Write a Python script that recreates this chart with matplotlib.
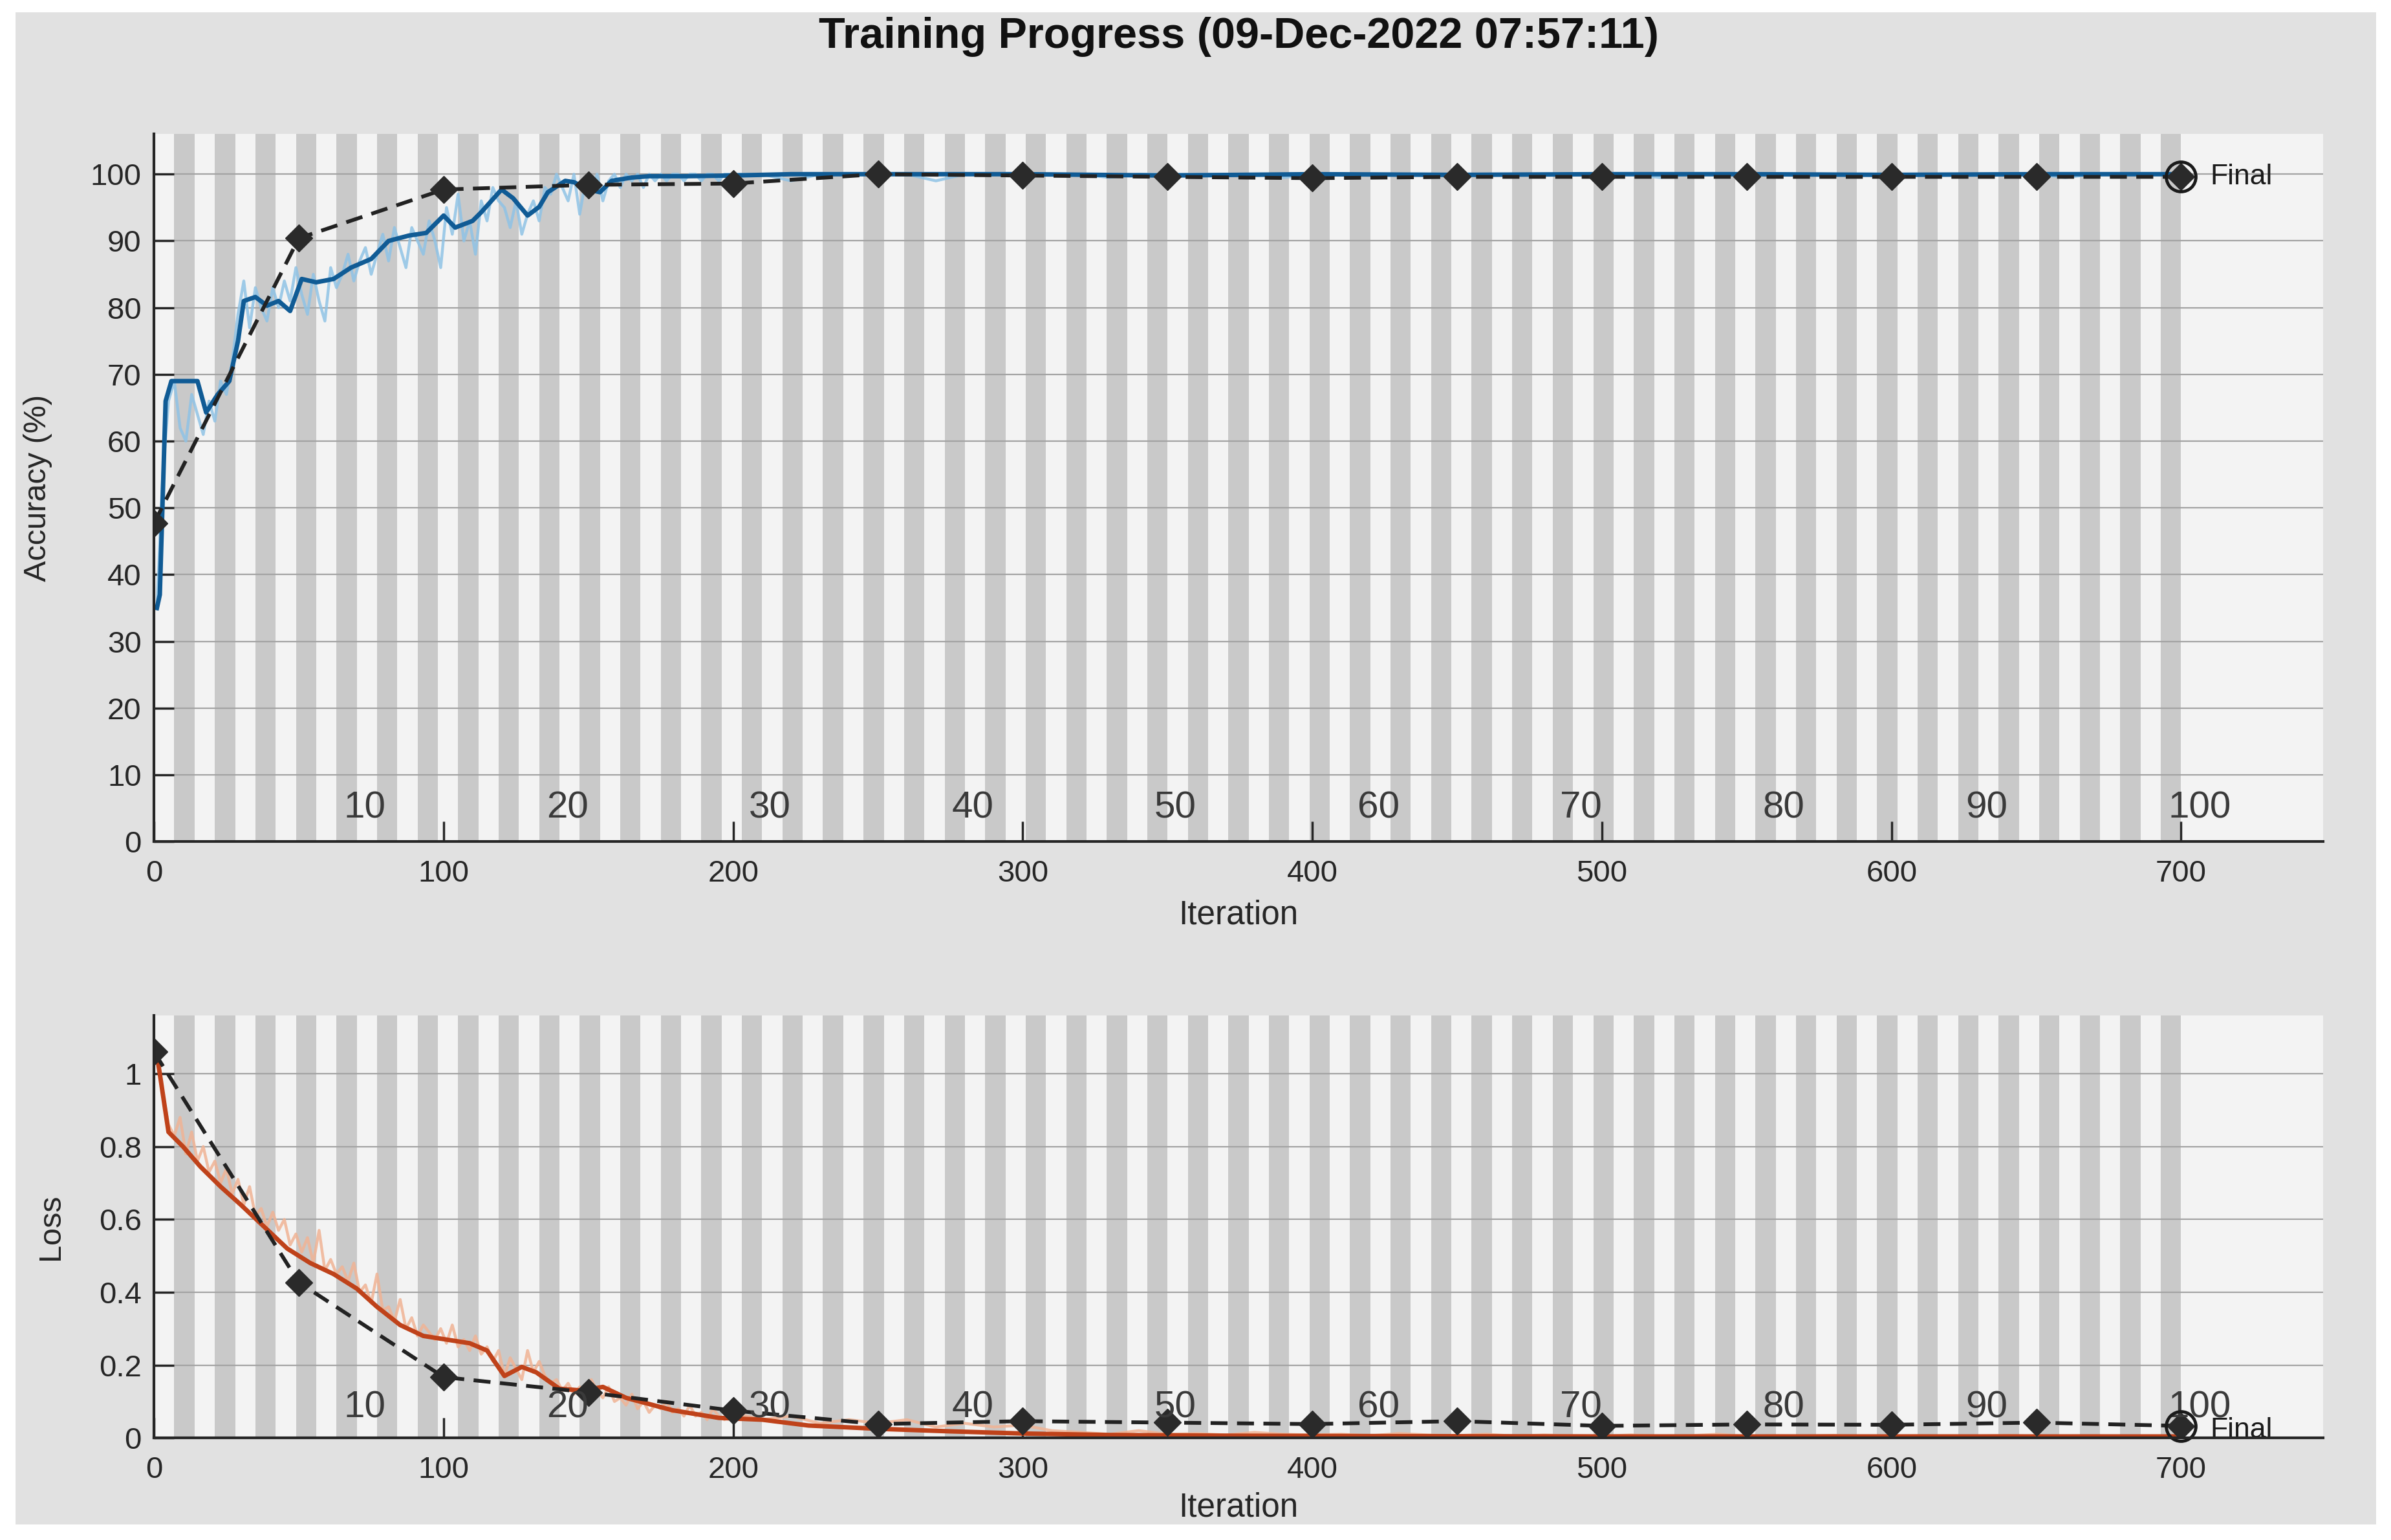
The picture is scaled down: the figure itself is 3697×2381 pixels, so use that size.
import matplotlib.pyplot as plt
from matplotlib.patches import Rectangle
from matplotlib.ticker import FuncFormatter

plt.rcParams['font.family'] = ['Liberation Sans', 'DejaVu Sans']

# epochs / iterations
n_epochs = 100
iters_per_epoch = 7
epoch_labels = [10, 20, 30, 40, 50, 60, 70, 80, 90, 100]

# training accuracy, raw (every 2nd iteration up to 199, then every 10)
acc_raw_iters = list(range(1, 200, 2)) + list(range(210, 701, 10))
acc_raw = [35, 55, 66, 69, 62, 60, 67, 64, 61, 66,
           63, 69, 67, 72, 79, 84, 77, 83, 80, 78,
           83, 80, 84, 81, 86, 82, 79, 85, 81, 78,
           86, 83, 85, 88, 84, 87, 89, 85, 88, 91,
           87, 92, 89, 86, 92, 90, 88, 93, 90, 86,
           95, 91, 97, 90, 93, 88, 96, 93, 98, 96,
           95, 92, 96, 91, 94, 96, 93, 98, 97, 100,
           98, 96, 100, 94, 99, 97, 100, 96, 99, 100,
           98, 100, 99, 100, 98, 100, 99, 100, 99, 100,
           100, 99, 100, 100, 99, 100, 100, 99, 100, 100,
           100, 99, 100, 100, 100, 100, 99, 100, 100, 100,
           100, 100, 99.5, 100, 100, 100, 100, 100, 99.5, 100,
           100, 100, 100, 100, 99.5, 100, 100, 100, 100, 100,
           100, 99.5, 100, 100, 100, 100, 100, 100, 100, 99.5,
           100, 100, 100, 100, 100, 99.5, 100, 100, 100, 100]

# training accuracy, smoothed
acc_smooth_iters = [1, 2, 4, 6, 15, 18, 22, 26, 29, 31, 35, 39, 43, 47, 51, 56, 62, 68,
                    75, 81, 88, 94, 100, 104, 110, 113, 120, 124, 129, 133, 136, 142,
                    145, 150, 154, 158, 165, 171, 184, 200, 220, 250, 300, 350, 400,
                    450, 500, 550, 600, 650, 700]
acc_smooth = [35, 37, 66, 69, 69, 64.3, 67, 69, 75, 81, 81.6, 80.3, 81, 79.5, 84.3, 83.8,
              84.3, 86, 87.3, 90, 90.8, 91.2, 93.8, 92, 93, 94.3, 97.7, 96.4, 93.8, 95.1,
              97.3, 99, 98.8, 97.7, 97.3, 99, 99.5, 99.7, 99.7, 99.8, 100, 100, 100, 99.8,
              100, 99.9, 100, 100, 99.9, 100, 100]

# training loss, raw
loss_raw_iters = list(range(1, 200, 2)) + list(range(210, 701, 10))
loss_raw = [1.05, 0.95, 0.86, 0.83, 0.88, 0.78, 0.84, 0.76, 0.80, 0.73,
            0.76, 0.70, 0.74, 0.67, 0.71, 0.64, 0.69, 0.61, 0.63, 0.58,
            0.62, 0.57, 0.60, 0.53, 0.56, 0.51, 0.55, 0.48, 0.57, 0.46,
            0.49, 0.45, 0.47, 0.43, 0.48, 0.40, 0.42, 0.37, 0.45, 0.35,
            0.36, 0.32, 0.38, 0.30, 0.33, 0.28, 0.31, 0.29, 0.27, 0.30,
            0.26, 0.31, 0.25, 0.27, 0.24, 0.28, 0.23, 0.25, 0.21, 0.24,
            0.17, 0.22, 0.19, 0.16, 0.24, 0.18, 0.21, 0.17, 0.15, 0.16,
            0.13, 0.15, 0.12, 0.14, 0.12, 0.16, 0.13, 0.11, 0.14, 0.10,
            0.11, 0.09, 0.12, 0.08, 0.10, 0.07, 0.09, 0.08, 0.10, 0.07,
            0.08, 0.06, 0.09, 0.06, 0.07, 0.05, 0.08, 0.06, 0.05, 0.07,
            0.05, 0.06, 0.04, 0.05, 0.04, 0.05, 0.03, 0.04, 0.03, 0.035,
            0.02, 0.015, 0.01, 0.02, 0.01, 0.012, 0.008, 0.015, 0.01, 0.008,
            0.01, 0.006, 0.012, 0.008, 0.006, 0.01, 0.005, 0.008, 0.006, 0.005,
            0.008, 0.005, 0.006, 0.01, 0.004, 0.006, 0.005, 0.007, 0.004, 0.005,
            0.006, 0.004, 0.005, 0.007, 0.004, 0.005, 0.006, 0.004, 0.005, 0.004]

# training loss, smoothed
loss_smooth_iters = [1, 2, 5, 10, 16, 23, 30, 38, 46, 54, 62, 70, 77, 85, 93, 101, 109,
                     115, 121, 127, 132, 140, 148, 155, 163, 179, 195, 210, 226, 250,
                     275, 300, 330, 370, 420, 500, 600, 700]
loss_smooth = [1.05, 1.0, 0.84, 0.80, 0.745, 0.69, 0.64, 0.58, 0.52, 0.48, 0.45, 0.41,
               0.36, 0.31, 0.28, 0.27, 0.26, 0.24, 0.17, 0.195, 0.18, 0.135, 0.13, 0.14,
               0.11, 0.076, 0.055, 0.05, 0.034, 0.025, 0.018, 0.012, 0.008, 0.006,
               0.005, 0.004, 0.004, 0.004]

# validation
val_iters = list(range(0, 701, 50))
val_acc = [47.7, 90.4, 97.7, 98.4, 98.6, 100, 99.8, 99.6, 99.4, 99.6, 99.6, 99.6, 99.6, 99.6, 99.6]
val_loss = [1.06, 0.427, 0.167, 0.125, 0.075, 0.038, 0.046, 0.042, 0.038, 0.046, 0.033,
            0.037, 0.036, 0.042, 0.033]

fig = plt.figure(figsize=(36.98, 23.81), dpi=100, facecolor='white')
fig.patches.append(Rectangle((0.0064, 0.0099), 0.9872, 0.9822, transform=fig.transFigure,
                             facecolor='#e1e1e1', edgecolor='none', zorder=-10))

ax1 = fig.add_axes([0.0644, 0.4535, 0.9069, 0.4594])
ax2 = fig.add_axes([0.0644, 0.0663, 0.9069, 0.2743])

panels = [
    (ax1, acc_raw_iters, acc_raw, acc_smooth_iters, acc_smooth, val_acc,
     '#8fc3e6', '#105b95', (0, 106), list(range(0, 101, 10)), 'Accuracy (%)', 5.0, -0.047, -0.082, 0.0),
    (ax2, loss_raw_iters, loss_raw, loss_smooth_iters, loss_smooth, val_loss,
     '#f0b394', '#bf421a', (0, 1.16), [0, 0.2, 0.4, 0.6, 0.8, 1], 'Loss', 0.083, -0.041, -0.128, -0.012),
]

for ax, rx, ry, sx, sy, vy, c_raw, c_smooth, ylim, yticks, ylab, ep_y, ylab_x, xlab_y, fin_dy in panels:
    ax.set_facecolor('#f3f3f3')
    # alternating epoch shading
    for e in range(2, n_epochs + 1, 2):
        ax.axvspan((e - 1) * iters_per_epoch, e * iters_per_epoch,
                   color='#c9c9c9', lw=0, zorder=0)
    ax.set_xlim(0, 749)
    ax.set_ylim(*ylim)
    ax.set_yticks(yticks)
    ax.yaxis.set_major_formatter(FuncFormatter(lambda v, p: f'{v:g}'))
    ax.set_xticks(range(0, 701, 100))
    ax.grid(axis='y', color='#a3a3a3', lw=1.6, zorder=1)
    ax.set_axisbelow(True)
    for s in ['top', 'right']:
        ax.spines[s].set_visible(False)
    for s in ['left', 'bottom']:
        ax.spines[s].set_linewidth(3)
        ax.spines[s].set_color('#262626')
        ax.spines[s].set_zorder(6)
    ax.tick_params(direction='in', length=22, width=2.5, labelsize=34, pad=20,
                   colors='#262626')
    ax.tick_params(axis='y', pad=14)

    ax.plot(rx, ry, color=c_raw, lw=3.2, alpha=0.85, zorder=3)
    ax.plot(sx, sy, color=c_smooth, lw=5, zorder=4)
    ax.plot(val_iters, vy, color='#222222', lw=4.2, ls=(0, (4.5, 2.5)),
            marker='D', markersize=21, markerfacecolor='#2a2a2a',
            markeredgecolor='#2a2a2a', zorder=5)
    ax.plot([val_iters[-1]], [vy[-1]], marker='o', markersize=33, markerfacecolor='none',
            markeredgecolor='#1a1a1a', markeredgewidth=3.5, zorder=6, clip_on=False)
    ax.text(val_iters[-1] + 10, vy[-1] + fin_dy, 'Final', fontsize=32, va='center', ha='left',
            color='#1a1a1a', zorder=6, clip_on=False)

    for e in epoch_labels:
        ax.text(e * iters_per_epoch - 4.5, ep_y, str(e), fontsize=42, ha='left', va='center',
                color='#3a3a3a', zorder=5)

    ax.set_ylabel(ylab, fontsize=35, color='#262626')
    ax.yaxis.set_label_coords(ylab_x, 0.5)
    ax.set_xlabel('Iteration', fontsize=37, color='#262626', va='top')
    ax.xaxis.set_label_coords(0.5, xlab_y)

fig.text(0.518, 0.976, 'Training Progress (09-Dec-2022 07:57:11)', fontsize=48,
         fontweight='bold', ha='center', va='center', color='#111111')

fig.savefig('out.png', dpi=100, facecolor=fig.get_facecolor())
